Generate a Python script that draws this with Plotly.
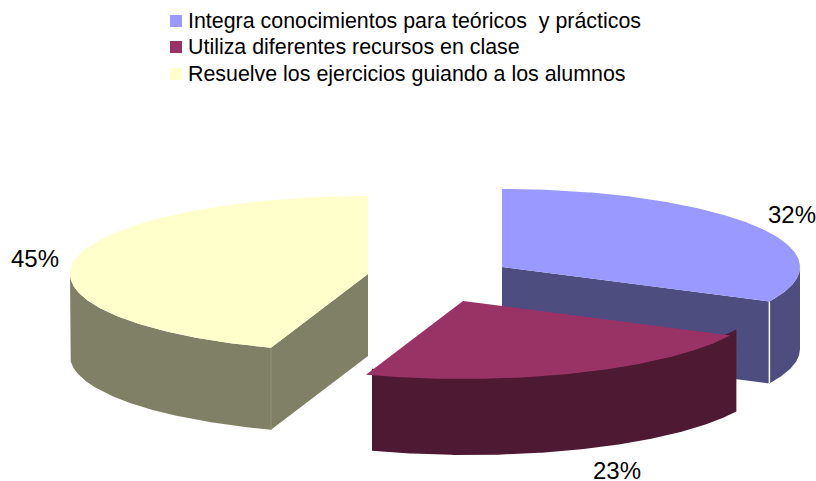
import math
import plotly.graph_objects as go

# Chart content
categories = [
    "Integra conocimientos para teóricos  y prácticos",
    "Utiliza diferentes recursos en clase",
    "Resuelve los ejercicios guiando a los alumnos",
]
shares = [32, 23, 45]
top_colors = ["#9999FF", "#993366", "#FFFFCC"]
side_colors = ["#4D4D80", "#4D1933", "#808066"]

# Pie geometry in page pixels
RX, RY, DEPTH = 298, 78, 82
centers = [(502, 267), (463, 301), (368, 274)]
side_shift = [(0, 0), (6, -6), (0, 0)]
label_pos = [(792, 217), (617, 473), (35, 261)]
legend_y = [21, 47, 74]
BOUNDARY_NUDGE = 1.0  # inner slice boundaries sit about a degree further round


def rim(cx, cy, a, b, drop=0):
    """Points of the ellipse rim between two clockwise angles (degrees from 12 o'clock)."""
    n = max(2, int(abs(b - a) * 2))
    angles = [math.radians(a + (b - a) * i / n) for i in range(n + 1)]
    return ([cx + RX * math.sin(t) for t in angles],
            [cy - RY * math.cos(t) + drop for t in angles])


def polygon(xs, ys, color):
    return go.Scatter(x=xs + xs[:1], y=ys + ys[:1], mode="lines", fill="toself",
                      fillcolor=color, line=dict(width=0), hoverinfo="skip")


def outer_wall(cx, cy, a, b, color):
    x1, y1 = rim(cx, cy, a, b)
    x2, y2 = rim(cx, cy, a, b, DEPTH)
    return polygon(x1 + x2[::-1], y1 + y2[::-1], color)


def cut_wall(cx, cy, angle, color):
    x, y = rim(cx, cy, angle, angle)
    return polygon([cx, x[0], x[0], cx], [cy, y[0], y[0] + DEPTH, cy + DEPTH], color)


def top_face(cx, cy, a, b, color):
    x, y = rim(cx, cy, a, b)
    return polygon([cx] + x, [cy] + y, color)


def wall_seam(cx, cy, angle, color, width):
    x, y = rim(cx, cy, angle, angle)
    return go.Scatter(x=[x[0], x[0]], y=[y[0], y[0] + DEPTH], mode="lines",
                      line=dict(color=color, width=width), hoverinfo="skip")


# Clockwise slice limits from the shares
limits = [0]
for s in shares:
    limits.append(limits[-1] + s * 3.6)
limits[1] += BOUNDARY_NUDGE
limits[2] += BOUNDARY_NUDGE

fig = go.Figure()

# Walls first, top faces over them
a, b = limits[0], limits[1]
cx, cy = centers[0]
fig.add_trace(cut_wall(cx, cy, b, side_colors[0]))
fig.add_trace(outer_wall(cx, cy, 90, b, side_colors[0]))
fig.add_trace(wall_seam(cx, cy, b, "#FFFFFF", 1.5))
fig.add_trace(top_face(cx, cy, a, b, top_colors[0]))

a, b = limits[1], limits[2]
cx, cy = centers[1]
dx, dy = side_shift[1]
fig.add_trace(outer_wall(cx + dx, cy + dy, a, b, side_colors[1]))
fig.add_trace(top_face(cx, cy, a, b, top_colors[1]))

a, b = limits[2], limits[3]
cx, cy = centers[2]
fig.add_trace(outer_wall(cx, cy, a, 270, side_colors[2]))
fig.add_trace(cut_wall(cx, cy, a, side_colors[2]))
fig.add_trace(wall_seam(cx, cy, a, "#93937A", 1))
fig.add_trace(top_face(cx, cy, a, b, top_colors[2]))

# Percentage labels
fig.add_trace(go.Scatter(x=[p[0] for p in label_pos], y=[p[1] for p in label_pos], mode="text",
                         text=[f"{s}%" for s in shares], textposition="middle center",
                         textfont=dict(family="Liberation Sans", size=24, color="#000000"),
                         hoverinfo="skip"))

# Key above the pie
fig.add_trace(go.Scatter(x=[176] * 3, y=legend_y, mode="markers",
                         marker=dict(symbol="square", size=12, color=top_colors, line=dict(width=0)),
                         hoverinfo="skip"))
for name, y in zip(categories, legend_y):
    fig.add_annotation(x=188, y=y, text=name, xanchor="left", yanchor="middle", showarrow=False,
                       xref="x", yref="y", borderpad=0, borderwidth=0,
                       font=dict(family="Liberation Sans", size=21.4, color="#000000"))

fig.update_layout(width=816, height=481, margin=dict(l=0, r=0, t=0, b=0), showlegend=False,
                  paper_bgcolor="#FFFFFF", plot_bgcolor="#FFFFFF",
                  xaxis=dict(range=[0, 816], visible=False, fixedrange=True),
                  yaxis=dict(range=[481, 0], visible=False, fixedrange=True))
fig.write_html("out.html", config=dict(displayModeBar=False))
